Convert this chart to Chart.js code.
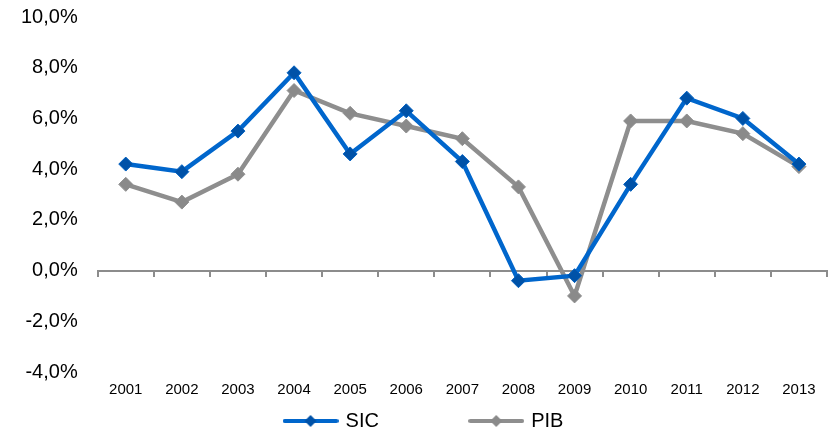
<!DOCTYPE html>
<html>
<head>
<meta charset="utf-8">
<script src="https://cdn.jsdelivr.net/npm/chart.js@4/dist/chart.umd.min.js"></script>
<style>
body{margin:0;background:#fff}
</style>
</head>
<body>
<canvas id="sicpib" width="830" height="431"></canvas>
<script>
var years = ["2001","2002","2003","2004","2005","2006","2007","2008","2009","2010","2011","2012","2013"];
var sic = [4.2, 3.9, 5.5, 7.8, 4.6, 6.3, 4.3, -0.4, -0.2, 3.4, 6.8, 6.0, 4.2];
var pib = [3.4, 2.7, 3.8, 7.1, 6.2, 5.7, 5.2, 3.3, -1.0, 5.9, 5.9, 5.4, 4.1];
var yMin = -4, yMax = 10, yStep = 2;

var font = "'Liberation Sans', Arial, sans-serif";

// little line+diamond picture for the legend
function legendMark(line, fill){
  var c = document.createElement('canvas');
  c.width = 56; c.height = 14;
  var g = c.getContext('2d');
  g.strokeStyle = line;
  g.lineWidth = 4;
  g.lineCap = 'round';
  g.beginPath(); g.moveTo(2,7); g.lineTo(54,7); g.stroke();
  g.fillStyle = fill;
  g.beginPath(); g.moveTo(28,1); g.lineTo(34,7); g.lineTo(28,13); g.lineTo(22,7); g.closePath(); g.fill();
  return c;
}
var marks = [legendMark('#0066CC','#0052A8'), legendMark('#8E8E8E','#8A8A8A')];

// excel puts the legend a bit right of centre
var nudgeLegend = {
  id: 'nudgeLegend',
  afterLayout: function(ch){ ch.legend.left += 4; }
};

var ctx = document.getElementById("sicpib").getContext('2d');
var chart = new Chart(ctx, {
  type: "line",
  data: {
    labels: years,
    datasets: [{
      label: "SIC",
      data: sic,
      borderColor: '#0066CC',
      backgroundColor: '#0052A8',
      pointBorderColor: '#0060C0',
      borderWidth: 4.5,
      pointStyle: 'rectRot',
      pointRadius: 7,
      pointBorderWidth: 1,
      tension: 0,
      fill: false
    }, {
      label: "PIB",
      data: pib,
      borderColor: '#8E8E8E',
      backgroundColor: '#8A8A8A',
      pointBorderColor: '#8E8E8E',
      borderWidth: 4.5,
      pointStyle: 'rectRot',
      pointRadius: 7,
      pointBorderWidth: 1,
      tension: 0,
      fill: false
    }]
  },
  plugins: [nudgeLegend],
  options: {
    responsive: false,
    animation: false,
    layout: { autoPadding: false, padding: { left: 18, right: 3, top: 17, bottom: -10 } },
    plugins: {
      tooltip: { enabled: false },
      legend: {
        position: 'bottom',
        labels: {
          usePointStyle: true,
          pointStyleWidth: 50,
          padding: 9,
          color: '#000',
          font: { family: font, size: 20 },
          generateLabels: function(ch){
            return ch.data.datasets.map(function(ds, i){
              return {
                text: i === 0 ? ds.label + '               ' : ds.label,
                pointStyle: marks[i],
                fillStyle: ds.borderColor,
                strokeStyle: ds.borderColor,
                fontColor: '#000',
                lineWidth: 0,
                hidden: false,
                datasetIndex: i
              };
            });
          }
        }
      }
    },
    scales: {
      x: {
        type: 'category',
        position: 'bottom',
        offset: true,
        grid: { display: true, drawOnChartArea: false, drawTicks: true, tickLength: 6, color: 'rgba(0,0,0,0)' },
        border: { display: false },
        ticks: { color: '#000', padding: 3, maxRotation: 0, font: { family: font, size: 15 } }
      },
      zero: {
        type: 'category',
        axis: 'x',
        labels: years,
        position: { y: 0 },
        offset: true,
        grid: { offset: true, drawOnChartArea: false, drawTicks: true, tickLength: 5, color: '#8C8C8C', lineWidth: 2 },
        border: { display: true, color: '#8C8C8C', width: 2 },
        ticks: { display: false }
      },
      y: {
        min: yMin,
        max: yMax,
        grid: { display: true, drawOnChartArea: false, drawTicks: true, tickLength: 17, color: 'rgba(0,0,0,0)' },
        border: { display: false },
        ticks: {
          stepSize: yStep,
          padding: 3,
          color: '#000',
          font: { family: font, size: 20 },
          callback: function(v){ return v.toFixed(1).replace('.', ',') + '%'; }
        }
      }
    }
  }
});
</script>
</body>
</html>
